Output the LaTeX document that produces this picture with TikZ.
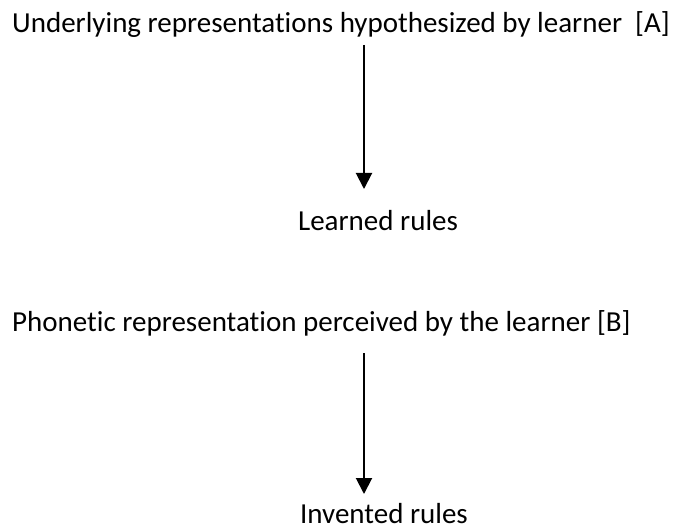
\documentclass[tikz,border=0pt]{standalone}
\usepackage{fontspec}
\setmainfont{Carlito}[Ligatures={NoCommon}]
\usetikzlibrary{arrows.meta}
\begin{document}
\begin{tikzpicture}[x=1pt,y=-1pt,
  lbl/.style={inner sep=0pt,font=\fontsize{29}{34}\selectfont},
  arr/.style={line width=2pt,-{Triangle[length=16pt,width=16pt]}}]
\useasboundingbox (0,0) rectangle (679,529);
\node[lbl,anchor=base west] (A) at (12,33) {Underlying representations hypothesized by learner\ \ [A]};
\node[lbl,anchor=base] (LR) at (378,230) {Learned rules};
\node[lbl,anchor=base west] (B) at (12,331) {Phonetic representation perceived by the learner [B]};
\node[lbl,anchor=base] (IR) at (384,523) {Invented rules};
\coordinate (t1) at (364,45);
\coordinate (h1) at (364,189);
\coordinate (t2) at (364,353);
\coordinate (h2) at (364,494);
\draw[arr] (t1) -- (h1);
\draw[arr] (t2) -- (h2);
\end{tikzpicture}
\end{document}
